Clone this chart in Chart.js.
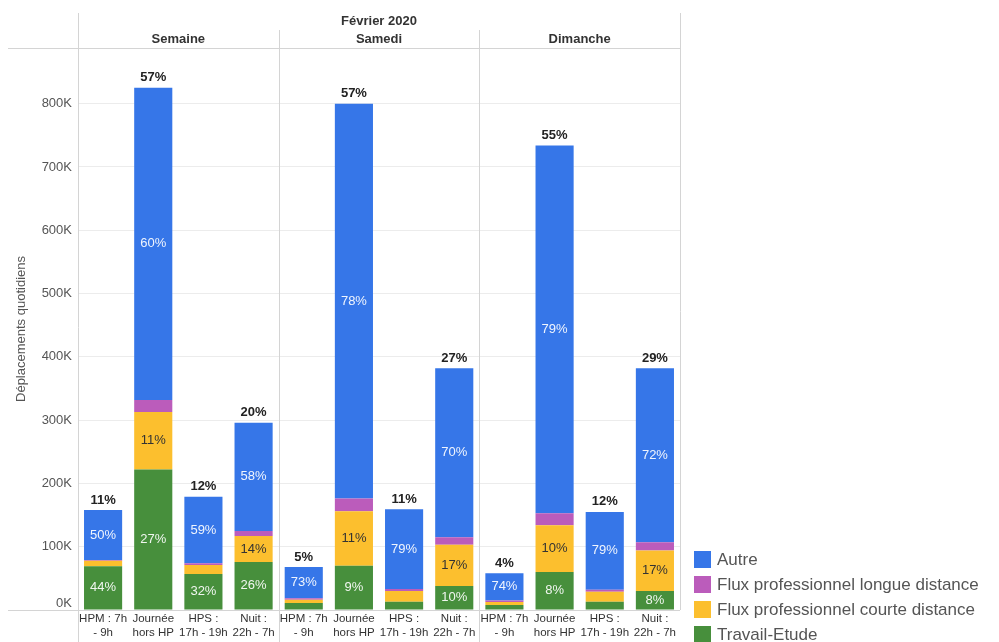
<!DOCTYPE html>
<html lang="fr">
<head>
<meta charset="utf-8">
<title>Déplacements quotidiens - Février 2020</title>
<script src="https://cdn.jsdelivr.net/npm/chart.js@4.4.1/dist/chart.umd.min.js"></script>
<style>
  html, body { margin: 0; padding: 0; background: #fff; }
  #wrap { position: relative; width: 999px; height: 642px; overflow: hidden; }
  #legend { position: absolute; left: 694px; top: 551px; font: 17px "Liberation Sans", Arial, sans-serif; color: #555; }
  #legend div { height: 25px; line-height: 18px; white-space: nowrap; }
  #legend span { display: inline-block; width: 17px; height: 17px; vertical-align: top; margin-right: 6px; }
</style>
</head>
<body>
<div id="wrap">
  <canvas id="graph" width="999" height="642"></canvas>
  <div id="legend"></div>
</div>
<script>
// Données (milliers de déplacements quotidiens)
const periode = 'Février 2020';
const panneaux = ['Semaine', 'Samedi', 'Dimanche'];
const tranches = [['HPM : 7h', '- 9h'], ['Journée', 'hors HP'], ['HPS :', '17h - 19h'], ['Nuit :', '22h - 7h']];

const travailEtude = [69, 222, 57, 76, 11, 70, 13, 38, 8, 60, 13, 30];
const fluxCourte = [9, 91, 14, 41, 5, 86, 17, 65, 4.5, 74, 16, 64];
const fluxLongue = [1, 19, 3, 8, 2.5, 20, 3, 12, 2.5, 19, 3, 13];
const autre = [79, 493, 105, 171, 49.5, 624, 126, 267, 43, 581, 123, 275];

const yTicks = [0, 100, 200, 300, 400, 500, 600, 700, 800];

const police = '"Liberation Sans", Arial, sans-serif';
const couleurs = {
  travail: '#478f3c',
  courte: '#fcbf2e',
  longue: '#bb5cbb',
  autre: '#3676e8'
};

// étiquettes : une tranche par panneau
const labels = [];
panneaux.forEach(() => tranches.forEach(t => labels.push(t)));

const series = [
  { label: 'Travail-Etude', data: travailEtude, color: couleurs.travail, text: 'rgba(255,255,255,0.92)' },
  { label: 'Flux professionnel courte distance', data: fluxCourte, color: couleurs.courte, text: '#333' },
  { label: 'Flux professionnel longue distance', data: fluxLongue, color: couleurs.longue, text: '#fff' },
  { label: 'Autre', data: autre, color: couleurs.autre, text: 'rgba(255,255,255,0.92)' }
];

const totaux = labels.map((_, i) => series.reduce((s, d) => s + d.data[i], 0));
const totalPanneau = panneaux.map((_, p) => totaux.slice(p * 4, p * 4 + 4).reduce((a, b) => a + b, 0));

// légende (ordre inverse de l'empilement)
const legendDiv = document.getElementById('legend');
series.slice().reverse().forEach(s => {
  const row = document.createElement('div');
  row.innerHTML = `<span style="background:${s.color}"></span>${s.label}`;
  legendDiv.appendChild(row);
});

const decorations = {
  id: 'decorations',
  afterDatasetsDraw(chart) {
    const ctx = chart.ctx;
    ctx.save();
    ctx.textAlign = 'center';
    ctx.textBaseline = 'middle';

    // pourcentages dans les segments
    series.forEach((s, di) => {
      const meta = chart.getDatasetMeta(di);
      meta.data.forEach((bar, i) => {
        const h = bar.base - bar.y;
        if (h < 16) return;
        const pct = Math.round(s.data[i] / totaux[i] * 100);
        ctx.font = '13px ' + police;
        ctx.fillStyle = s.text;
        ctx.fillText(pct + '%', bar.x, (bar.y + bar.base) / 2);
      });
    });

    // part de chaque tranche dans le panneau
    const metaTop = chart.getDatasetMeta(series.length - 1);
    metaTop.data.forEach((bar, i) => {
      const p = Math.floor(i / 4);
      const pct = Math.round(totaux[i] / totalPanneau[p] * 100);
      ctx.font = 'bold 13px ' + police;
      ctx.fillStyle = '#222';
      ctx.fillText(pct + '%', bar.x, bar.y - 10);
    });
    ctx.restore();
  },
  afterDraw(chart) {
    const ctx = chart.ctx;
    const area = chart.chartArea;
    const x = chart.scales.x;
    const y = chart.scales.y;
    ctx.save();
    ctx.strokeStyle = '#d4d4d4';
    ctx.lineWidth = 1;

    // ligne de base et ligne d'en-tête
    ctx.beginPath();
    ctx.moveTo(8, Math.round(area.bottom) + 0.5);
    ctx.lineTo(area.right, Math.round(area.bottom) + 0.5);
    ctx.moveTo(8, Math.round(area.top) + 0.5);
    ctx.lineTo(area.right, Math.round(area.top) + 0.5);
    ctx.stroke();

    // bords et séparateurs de panneaux
    ctx.beginPath();
    ctx.moveTo(Math.round(area.left) + 0.5, 13);
    ctx.lineTo(Math.round(area.left) + 0.5, chart.height);
    ctx.moveTo(Math.round(area.right) + 0.5, 13);
    ctx.lineTo(Math.round(area.right) + 0.5, area.bottom);
    for (let p = 1; p < panneaux.length; p++) {
      const sx = Math.round((x.getPixelForValue(p * 4 - 1) + x.getPixelForValue(p * 4)) / 2) + 0.5;
      ctx.moveTo(sx, 30);
      ctx.lineTo(sx, chart.height);
    }
    ctx.stroke();

    // libellé du zéro, remonté au-dessus de la ligne de base
    ctx.fillStyle = '#555';
    ctx.font = '13px ' + police;
    ctx.textAlign = 'right';
    ctx.textBaseline = 'middle';
    ctx.fillText(yTicks[0] + 'K', area.left - 6, y.getPixelForValue(yTicks[0]) - 7);

    // titres
    ctx.fillStyle = '#333';
    ctx.textAlign = 'center';
    ctx.font = 'bold 13px ' + police;
    ctx.fillText(periode, (area.left + area.right) / 2, 21);
    panneaux.forEach((nom, p) => {
      const cx = (x.getPixelForValue(p * 4 + 1) + x.getPixelForValue(p * 4 + 2)) / 2;
      ctx.fillText(nom, cx, 39);
    });
    ctx.restore();
  }
};

new Chart(document.getElementById('graph'), {
  type: 'bar',
  data: {
    labels: labels,
    datasets: series.map(s => ({
      label: s.label,
      data: s.data,
      backgroundColor: s.color,
      borderWidth: 0,
      barPercentage: 0.76,
      categoryPercentage: 1
    }))
  },
  options: {
    responsive: false,
    animation: false,
    layout: { padding: { top: 48, right: 319, left: 0, bottom: 0 } },
    plugins: {
      legend: { display: false },
      tooltip: { enabled: false }
    },
    scales: {
      x: {
        stacked: true,
        grid: { display: false, drawTicks: false },
        border: { display: false },
        ticks: {
          color: '#333',
          font: { family: police, size: 11.5, lineHeight: 1.2 },
          padding: 2,
          maxRotation: 0,
          autoSkip: false
        },
        afterFit: scale => { scale.height = 32; }
      },
      y: {
        stacked: true,
        min: 0,
        max: 888,
        grid: { color: '#ececec', drawTicks: false },
        border: { display: false },
        ticks: {
          stepSize: 100,
          color: '#555',
          padding: 6,
          font: { family: police, size: 13 },
          callback: v => (v === yTicks[0] ? '' : v + 'K')
        },
        afterBuildTicks: scale => {
          scale.ticks = yTicks.map(v => ({ value: v }));
        },
        title: {
          display: true,
          text: 'Déplacements quotidiens',
          color: '#555',
          font: { family: police, size: 13 },
          padding: { top: 14, bottom: 0 }
        },
        afterFit: scale => { scale.width = 78; }
      }
    }
  },
  plugins: [decorations]
});
</script>
</body>
</html>
